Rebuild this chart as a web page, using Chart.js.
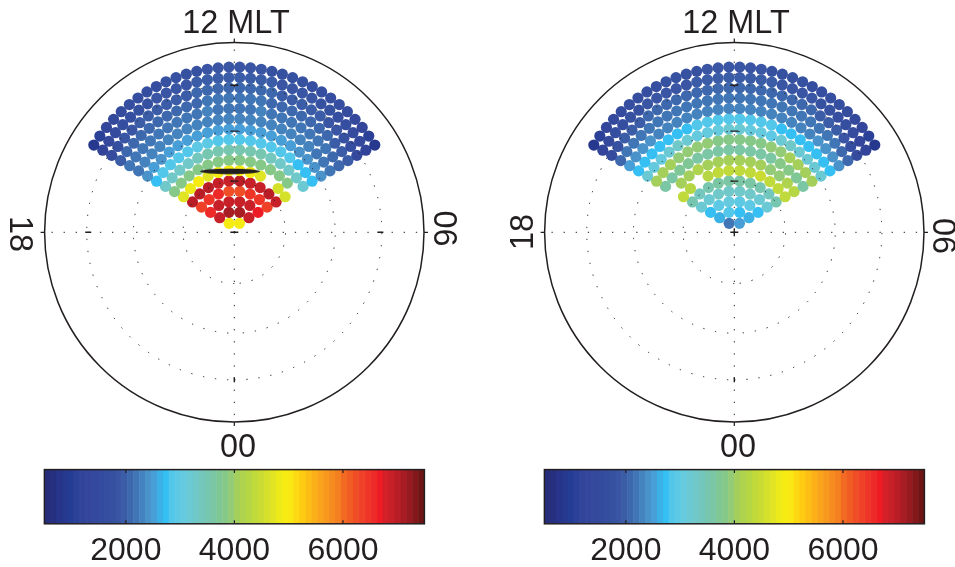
<!DOCTYPE html>
<html lang="en">
<head>
<meta charset="UTF-8">
<title>MLT dial plots</title>
<script src="https://cdn.jsdelivr.net/npm/chart.js"></script>
<style>
body{margin:0;background:#fff;width:955px;height:567px;overflow:hidden;position:relative;}
canvas{position:absolute;display:block;}
</style>
</head>
<body>
<canvas id="dialLeft" width="475" height="460" style="left:0;top:0"></canvas>
<canvas id="dialRight" width="455" height="460" style="left:500px;top:0"></canvas>
<canvas id="barLeft" width="475" height="118" style="left:0;top:460px"></canvas>
<canvas id="barRight" width="455" height="118" style="left:500px;top:460px"></canvas>
<script>
const colorMin = 500;
const colorMax = 7500;
const colorTicks = [2000, 4000, 6000];
const colorBands = [
  '#262d7b','#26307f','#273489','#26398f','#253c94','#2b4097','#31449a','#33469b',
  '#34489c','#354b9e','#364ea0','#3751a1','#3955a3','#3b5ca7','#3d68ad','#4076b6',
  '#4583bf','#4a92ca','#489fd8','#3cb1e6','#35bff2','#53c7ea','#5dc9e4','#65cade',
  '#6bc9d4','#70c8c8','#74c7bc','#77c6b0','#7bc6a4','#80c796','#86c888','#94cb76',
  '#a5cf5b','#aed34f','#b7d644','#c0d93b','#cadc33','#d5e02a','#e0e422','#ecea19',
  '#f6ec13','#fae814','#fcd913','#fdcb12','#fcbd15','#fbb018','#f9a41b','#f8981d',
  '#f68c1f','#f58021','#f26a23','#f15c24','#f04e26','#ef4127','#ee3527','#ed2a27',
  '#ed1c24','#d42029','#c72029','#b91e27','#a81c24','#961a1f','#84171a','#6f1414'
];

// rings of the fan, inner to outer, each read left to right. null = no dot
const leftRing1 = [4900,4900];
const leftRing2 = [6950,7150,7150,6950];
const leftRing3 = [6600,6850,6900,6900,6950,6650];
const leftRing4 = [6350,6500,6550,6250,6250,6500,6500,6350];
const leftRing5 = [7000,7000,7050,6850,6950,7000,6850,6900,7000,6900];
const leftRing6 = [4700,4850,4900,4750,4900,4900,4900,4900,4750,null,4650,4600];
const leftRing7 = [3800,3850,3800,3850,3800,3800,3850,3850,3800,3800,3800,3800,3800,null];
const leftRing8 = [3250,3250,3300,3250,3400,3500,3550,3550,3550,3550,3500,3400,3300,3250,3250,3150];
const leftRing9 = [2780,2800,2800,2850,2900,2950,2950,2900,2800,2800,2800,2820,2850,2800,2800,2780,2750,2750];
const leftRing10 = [2450,2500,2450,2500,2500,2530,2520,2530,2530,2530,2530,2520,2500,2500,2520,2520,2450,2400,2450,2400];
const leftRing11 = [2200,2250,2250,2250,2300,2300,2300,2350,2350,2350,2350,2350,2350,2350,2350,2300,2300,2250,2250,2200,2200,2150];
const leftRing12 = [2150,2200,2200,2150,2200,2200,2200,2200,2200,2250,2200,2200,2200,2200,2250,2200,2200,2200,2150,2200,2150,2150,2100,2100];
const leftRing13 = [2000,2050,2050,2050,2050,2100,2100,2100,2100,2100,2150,2150,2150,2150,2150,2150,2100,2100,2100,2100,2050,2050,2050,2000,2000,1950];
const leftRing14 = [1500,1700,1850,1900,1950,1950,2000,2000,2000,2000,2050,2050,2050,2050,2050,2050,2050,2050,2000,2000,2000,1950,1950,1900,1850,1750,1650,1450];
const leftRing15 = [1200,1400,1550,1650,1700,1750,1800,1850,1850,1900,1900,1950,1950,1950,1950,1950,1950,1950,1950,1900,1900,1850,1850,1800,1750,1700,1650,1550,1400,1200];
const leftRing16 = [850,1100,1300,1450,1550,1600,1650,1700,1700,1750,1750,1800,1800,1850,1850,1850,1850,1850,1850,1800,1800,1750,1750,1700,1700,1650,1600,1550,1450,1300,1100,850];

const rightRing1 = [2200,2500];
const rightRing2 = [2600,2850,2780,2600];
const rightRing3 = [2780,3000,3050,3000,3000,2780];
const rightRing4 = [3150,3150,3250,3250,3250,3250,3150,3150];
const rightRing5 = [3500,3450,3500,3650,3600,3600,3650,3500,3450,3500];
const rightRing6 = [4400,4300,null,4300,4350,4350,4350,4350,4450,4400,4400,4400];
const rightRing7 = [null,4100,4100,4150,4050,4000,4050,4050,4000,4050,3950,3950,4150,4300];
const rightRing8 = [3650,3650,3700,3750,3650,3600,3600,3650,3650,3600,3600,3650,3800,3800,3700,3650];
const rightRing9 = [4050,4050,4000,3950,3950,3900,3900,3850,3850,3850,3850,3880,3900,3950,4000,4000,4050,4100];
const rightRing10 = [3200,3050,3100,3200,3250,3150,3050,3050,3100,3150,3150,3100,3050,3000,3150,3250,3200,3150,3150,3200];
const rightRing11 = [2750,2750,2700,2750,2780,2780,2780,2800,2800,2800,2800,2800,2800,2800,2800,2780,2780,2780,2750,2700,2750,2700];
const rightRing12 = [2500,2450,2450,2400,2350,2350,2350,2300,2250,2300,2300,2300,2300,2300,2300,2250,2300,2350,2350,2350,2400,2450,2450,2450];
const rightRing13 = [2100,2150,2150,2150,2200,2200,2200,2150,2150,2200,2200,2200,2200,2200,2200,2200,2150,2150,2200,2200,2200,2150,2150,2150,2100,2100];
const rightRing14 = [1500,1750,1950,2000,2000,2050,2050,2050,2050,2050,2100,2100,2100,2100,2100,2100,2100,2050,2050,2050,2050,2050,2000,2000,1950,1850,1700,1500];
const rightRing15 = [1200,1450,1600,1700,1750,1800,1850,1850,1900,1900,1900,1950,1950,1950,1950,1950,1950,1950,1950,1900,1900,1900,1850,1800,1750,1700,1600,1500,1350,1200];
const rightRing16 = [850,1100,1300,1450,1550,1600,1650,1700,1700,1750,1750,1800,1800,1850,1850,1850,1850,1850,1850,1800,1800,1750,1750,1700,1700,1650,1600,1550,1450,1300,1100,850];

const leftRings = [leftRing1,leftRing2,leftRing3,leftRing4,leftRing5,leftRing6,leftRing7,leftRing8,leftRing9,leftRing10,leftRing11,leftRing12,leftRing13,leftRing14,leftRing15,leftRing16];
const rightRings = [rightRing1,rightRing2,rightRing3,rightRing4,rightRing5,rightRing6,rightRing7,rightRing8,rightRing9,rightRing10,rightRing11,rightRing12,rightRing13,rightRing14,rightRing15,rightRing16];

// radii in units of the outer circle
const gridRings = [0.27, 0.532, 0.778];
const ringStep = 0.0545;
const fanHalfAngle = 60;
// the thin black bar in the left dial
const leftBarPoint = [{x: -0.0227, y: 0.3216}];

function colorOf(v) {
  const i = Math.floor((v - colorMin) / (colorMax - colorMin) * colorBands.length);
  return colorBands[Math.min(Math.max(i, 0), colorBands.length - 1)];
}

// ring k has 2k dots spread evenly over the fan
function ringsToPoints(rings) {
  const pts = [];
  rings.forEach((vals, idx) => {
    const k = idx + 1;
    vals.forEach((v, j) => {
      if (v === null) return;
      const th = (j + 0.5 - k) * fanHalfAngle / k * Math.PI / 180;
      pts.push({x: k * ringStep * Math.sin(th), y: k * ringStep * Math.cos(th), v: v});
    });
  });
  return pts;
}

function barImage() {
  const c = document.createElement('canvas');
  c.width = 62; c.height = 7;
  const g = c.getContext('2d');
  g.fillStyle = '#231f20';
  g.beginPath();
  g.ellipse(31, 3.5, 30, 2.8, 0, 0, Math.PI * 2);
  g.fill();
  return c;
}

const ink = '#231f20';
const labelFont = '32.4px "Liberation Sans", Arial, sans-serif';

function rotated(ctx, text, x, y, angle) {
  ctx.save();
  ctx.translate(x, y);
  ctx.rotate(angle);
  ctx.fillText(text, 0, 0);
  ctx.restore();
}

function dialPlugin(cfg) {
  return {
    id: 'dialGrid',
    afterDatasetsDraw(chart) {
      const ctx = chart.ctx, sx = chart.scales.x, sy = chart.scales.y;
      const cx = sx.getPixelForValue(0), cy = sy.getPixelForValue(0);
      const unit = sx.getPixelForValue(1) - cx;
      ctx.save();
      ctx.strokeStyle = ink;

      // dotted range rings and spokes
      ctx.lineWidth = 1;
      ctx.setLineDash([1.3, 10.8]);
      gridRings.forEach((r, i) => {
        ctx.lineDashOffset = i === 0 ? 0 : 6;
        ctx.beginPath();
        ctx.arc(cx, cy, r * unit, Math.PI / 2, Math.PI * 2.5);
        ctx.stroke();
      });
      ctx.lineDashOffset = 0;
      [[1,0],[-1,0],[0,1],[0,-1]].forEach(d => {
        ctx.beginPath();
        ctx.moveTo(cx, cy);
        ctx.lineTo(cx + d[0] * unit, cy + d[1] * unit);
        ctx.stroke();
      });
      ctx.setLineDash([]);

      // outer circle
      ctx.lineWidth = 1.5;
      ctx.beginPath();
      ctx.arc(cx, cy, unit, 0, Math.PI * 2);
      ctx.stroke();

      // outward ticks on the circle
      ctx.lineWidth = 1.2;
      ctx.beginPath();
      ctx.moveTo(cx - unit - 4, cy); ctx.lineTo(cx - unit, cy);
      ctx.moveTo(cx + unit + 4, cy); ctx.lineTo(cx + unit, cy);
      ctx.moveTo(cx, cy - unit - 4); ctx.lineTo(cx, cy - unit);
      ctx.moveTo(cx, cy + unit + 4); ctx.lineTo(cx, cy + unit);
      ctx.stroke();

      // small marks on the rings
      ctx.lineWidth = 1.4;
      ctx.beginPath();
      cfg.flatMarks.forEach(m => {
        const px = sx.getPixelForValue(m[0]), py = sy.getPixelForValue(m[1]);
        ctx.moveTo(px - m[2], py); ctx.lineTo(px + m[2], py);
      });
      cfg.tallMarks.forEach(m => {
        const px = sx.getPixelForValue(m[0]), py = sy.getPixelForValue(m[1]);
        ctx.moveTo(px, py - m[2]); ctx.lineTo(px, py + m[2]);
      });
      ctx.stroke();

      // labels
      ctx.fillStyle = ink;
      ctx.font = labelFont;
      ctx.textAlign = 'center';
      ctx.textBaseline = 'alphabetic';
      ctx.fillText('12 MLT', 236, 33);
      ctx.fillText('00', 238, 457);
      rotated(ctx, '18', cfg.dusk[0], cfg.dusk[1], cfg.dusk[2]);
      rotated(ctx, '06', cfg.dawn[0], cfg.dawn[1], Math.PI / 2);
      ctx.restore();
    }
  };
}

function makeDial(id, rings, extra, cfg) {
  const canvas = document.getElementById(id);
  const pts = ringsToPoints(rings);
  const datasets = [{
    type: 'scatter',
    order: 2,
    data: pts,
    pointRadius: 5.6,
    pointBorderWidth: 0,
    pointBackgroundColor: pts.map(p => colorOf(p.v))
  }];
  if (extra) datasets.push({
    type: 'scatter',
    order: 1,
    data: extra,
    pointStyle: barImage(),
    pointBorderWidth: 0
  });
  return new Chart(canvas, {
    type: 'scatter',
    data: {datasets: datasets},
    options: {
      responsive: false,
      animation: false,
      events: [],
      layout: {padding: {left: 44.6, right: canvas.width - 424, top: 42.8, bottom: canvas.height - 421.8}},
      plugins: {legend: {display: false}, tooltip: {enabled: false}},
      scales: {
        x: {type: 'linear', min: -1, max: 1, display: false},
        y: {type: 'linear', min: -1, max: 1, display: false}
      }
    },
    plugins: [dialPlugin(cfg)]
  });
}

const colorBarFrame = {
  id: 'colorBarFrame',
  afterDraw(chart) {
    const ctx = chart.ctx, a = chart.chartArea, sx = chart.scales.x;
    ctx.save();
    ctx.strokeStyle = ink;
    ctx.lineWidth = 1.2;
    ctx.beginPath();
    colorTicks.forEach(t => {
      const px = sx.getPixelForValue(t);
      ctx.moveTo(px, a.top); ctx.lineTo(px, a.top + 3.5);
      ctx.moveTo(px, a.bottom); ctx.lineTo(px, a.bottom - 3.5);
    });
    ctx.stroke();
    ctx.lineWidth = 1.5;
    ctx.strokeRect(a.left, a.top, a.right - a.left, a.bottom - a.top);
    ctx.restore();
  }
};

function makeColorBar(id) {
  const canvas = document.getElementById(id);
  const step = (colorMax - colorMin) / colorBands.length;
  return new Chart(canvas, {
    type: 'bar',
    data: {
      datasets: [{
        data: colorBands.map((c, i) => ({x: colorMin + (i + 0.5) * step, y: 1})),
        backgroundColor: colorBands,
        borderColor: colorBands,
        borderWidth: 0.5,
        barPercentage: 1,
        categoryPercentage: 1
      }]
    },
    options: {
      responsive: false,
      animation: false,
      events: [],
      layout: {padding: {left: 44.4, right: canvas.width - 424.4, top: 9.6, bottom: 0}},
      plugins: {legend: {display: false}, tooltip: {enabled: false}},
      scales: {
        x: {
          type: 'linear', min: colorMin, max: colorMax, offset: false,
          afterBuildTicks: s => { s.ticks = colorTicks.map(v => ({value: v})); },
          grid: {display: false, drawTicks: false, offset: false},
          border: {display: false},
          ticks: {
            color: ink, padding: 8.5, maxRotation: 0, autoSkip: false,
            font: {family: '"Liberation Sans", Arial, sans-serif', size: 32},
            callback: v => String(v)
          }
        },
        y: {type: 'linear', min: 0, max: 1, display: false}
      }
    },
    plugins: [colorBarFrame]
  });
}

makeDial('dialLeft', leftRings, leftBarPoint, {
  dusk: [10, 234, Math.PI / 2],
  dawn: [434, 228.5],
  flatMarks: [[0,0,4],[0,0.27,4],[0,0.534,4],[0,0.776,4],[-0.77,0,3],[0.77,0,3]],
  tallMarks: [[0,-0.778,2.5]]
});
makeDial('dialRight', rightRings, null, {
  dusk: [33, 232, -Math.PI / 2],
  dawn: [433, 236],
  flatMarks: [[0,0,4],[0,0.27,4],[0,0.534,4],[0,0.776,4]],
  tallMarks: [[0,0,4],[0,-0.778,2.5]]
});
makeColorBar('barLeft');
makeColorBar('barRight');
</script>
</body>
</html>
